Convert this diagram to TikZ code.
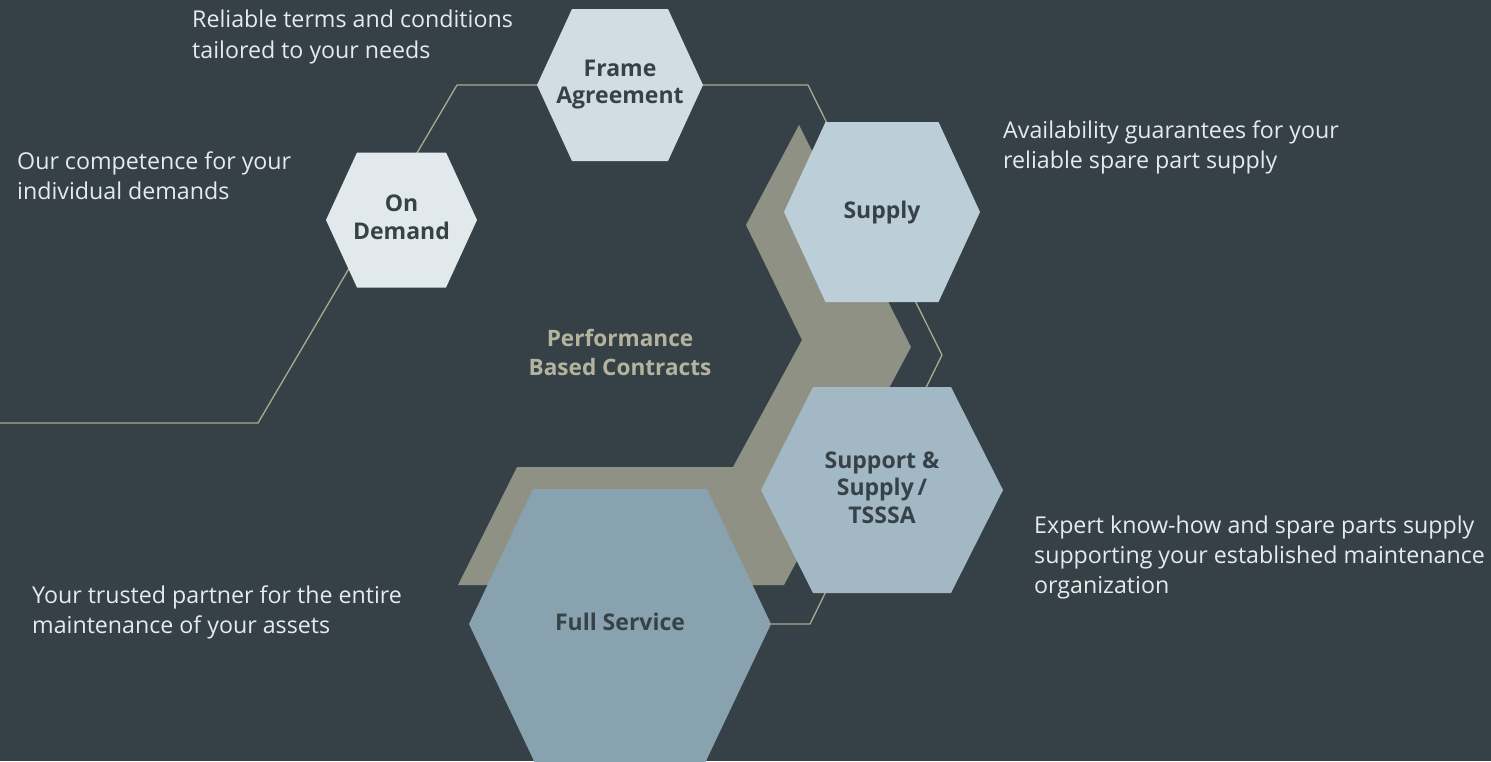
\documentclass[tikz,border=0pt]{standalone}
\usepackage{fontspec}
\setmainfont{Open Sans}
\definecolor{bgc}{RGB}{54,65,71}
\definecolor{linec}{RGB}{170,169,146}
\definecolor{chevc}{RGB}{143,145,133}
\definecolor{hexA}{RGB}{225,233,237}
\definecolor{hexB}{RGB}{209,221,227}
\definecolor{hexC}{RGB}{188,207,216}
\definecolor{hexD}{RGB}{162,184,196}
\definecolor{hexE}{RGB}{136,163,175}
\definecolor{hextxt}{RGB}{55,66,72}
\definecolor{desctxt}{RGB}{230,234,236}
\definecolor{perfc}{RGB}{180,180,158}
\newcommand{\hexpoly}[7]{%
  \fill[#6] (#1-#4,#2) coordinate (#7-w) -- (#1-#3,#2-#5) -- (#1+#3,#2-#5) -- (#1+#4,#2) coordinate (#7-e) -- (#1+#3,#2+#5) -- (#1-#3,#2+#5) -- cycle;}
\newcommand{\midlines}[2]{\vtop{\baselineskip=#1\relax\halign{\hfil##\hfil\cr#2\crcr}}}
\newcommand{\leftlines}[2]{\vtop{\baselineskip=#1\relax\halign{##\hfil\cr#2\crcr}}}
\tikzset{
  conn/.style={draw=linec, line width=1.3pt},
  desc/.style={text=desctxt, inner sep=0pt, anchor=base west, font=\fontsize{23.2}{30.5}\selectfont},
  hexlabel/.style={text=hextxt, inner sep=0pt, anchor=base, font=\fontsize{23}{27}\selectfont\bfseries},
  perflabel/.style={text=perfc, inner sep=0pt, anchor=base, font=\fontsize{22.6}{28}\selectfont\bfseries}
}
\begin{document}
\begin{tikzpicture}[x=1pt,y=-1pt]
\fill[bgc] (0,0) rectangle (1491,761);
\useasboundingbox (0,0) rectangle (1491,761);
% connector line
\coordinate (l0) at (0,423);
\coordinate (l1) at (258,423);
\coordinate (l2) at (457,85);
\coordinate (l3) at (808,85);
\coordinate (l4) at (942,355);
\coordinate (l5) at (810,624);
\coordinate (l6) at (771,624);
\draw[conn] (l0) -- (l1) -- (l2) -- (l3) -- (l4) -- (l5) -- (l6);
% chevron band
\fill[chevc] (799,125) -- (911,347) -- (784,585) -- (458,585) -- (517,467) -- (733,467) -- (802,340) -- (746,225) -- cycle;
% hexagons
\hexpoly{620}{85}{48}{83}{76}{hexB}{fa}
\hexpoly{401.5}{220}{44.5}{75.5}{67.5}{hexA}{od}
\hexpoly{882}{212}{56.5}{98}{90}{hexC}{su}
\hexpoly{882}{490}{69}{121}{103}{hexD}{ss}
\fill[hexE] (469,624) coordinate (fs-w) -- (533,489) -- (707,489) -- (771,624) coordinate (fs-e) -- (705,763) -- (535,763) -- cycle;
% hexagon labels
\node[hexlabel] (tfa) at (620,76.7) {\midlines{27pt}{Frame\cr Agreement}};
\node[hexlabel] (tod) at (401.5,211.7) {\midlines{27.5pt}{On\cr Demand}};
\node[hexlabel] (tsu) at (882,218) {Supply};
\node[hexlabel] (tss) at (882,468) {\midlines{27.5pt}{Support \&\cr Supply\,/\cr TSSSA}};
\node[hexlabel] (tfs) at (620,630) {Full Service};
\node[perflabel] (tpbc) at (620,346.7) {\midlines{28.3pt}{Performance\cr Based Contracts}};
% descriptions
\node[desc] (d1) at (192,27.5) {\leftlines{30.5pt}{Reliable terms and conditions\cr tailored to your needs}};
\node[desc] (d2) at (17,169) {\leftlines{30.5pt}{Our competence for your\cr individual demands}};
\node[desc] (d3) at (1003,138) {\leftlines{30.5pt}{Availability guarantees for your\cr reliable spare part supply}};
\node[desc] (d4) at (1034,533) {\leftlines{30pt}{Expert know-how and spare parts supply\cr supporting your established maintenance\cr organization}};
\node[desc] (d5) at (32,603) {\leftlines{30.5pt}{Your trusted partner for the entire\cr maintenance of your assets}};
\end{tikzpicture}
\end{document}
